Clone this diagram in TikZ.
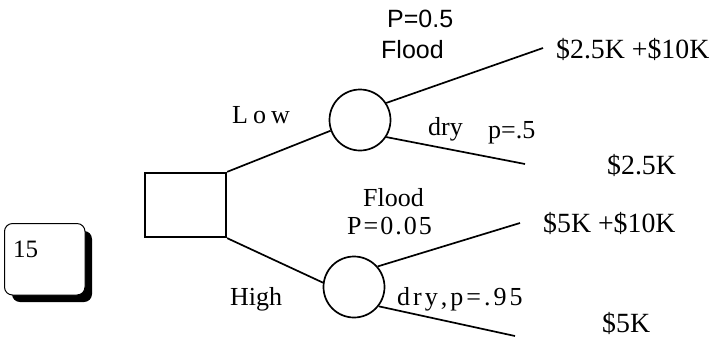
\documentclass[tikz,border=0pt]{standalone}
\usepackage{fontspec}
\setmainfont{Liberation Serif}
\newfontfamily\sansf{Liberation Sans}
\begin{document}
\begin{tikzpicture}[x=1pt,y=-1pt,
  lbl/.style={anchor=base west,inner sep=0pt,font=\fontsize{26}{28}\selectfont},
  vlbl/.style={anchor=base west,inner sep=0pt,font=\fontsize{27.8}{30}\selectfont},
  slbl/.style={anchor=base west,inner sep=0pt,font=\sansf\fontsize{25}{27}\selectfont},
  chance/.style={circle,draw,line width=1.7pt,minimum size=61pt,inner sep=0pt},
  decision/.style={draw,line width=2.3pt,minimum width=81pt,minimum height=64pt,inner sep=0pt},
  branch/.style={line width=1.7pt}]
\useasboundingbox (0,0) rectangle (711,349);
% shadowed label box
\fill[rounded corners=8pt] (12,231) rectangle (92,302);
\draw[fill=white,line width=1pt,rounded corners=8pt] (4.5,223.5) rectangle (85,295);
\node[lbl,font=\fontsize{25}{27}\selectfont] (n15) at (13,257) {15};
% decision node
\node[decision] (d) at (185.5,205) {};
% chance nodes
\node[chance] (c1) at (360,120) {};
\node[chance] (c2) at (354,287) {};
% end points
\coordinate (e1) at (543,48);
\coordinate (e2) at (525,164);
\coordinate (e3) at (520,223);
\coordinate (e4) at (515,336);
% branches
\draw[branch] (d.north east) -- (c1.200);
\draw[branch] (d.south east) -- (c2.172);
\draw[branch] (c1.33) -- (e1);
\draw[branch] (c1.-33) -- (e2);
\draw[branch] (c2.41) -- (e3);
\draw[branch] (c2.-38) -- (e4);
% labels
\node[slbl] (p05) at (387,27) {P=0.5};
\node[slbl] (fl1) at (381,58) {Flood};
\node[vlbl] (v1) at (556,58) {\$2.5K +\$10K};
\node[lbl] (low) at (232,123) {L\kern5pt o\kern5pt w};
\node[lbl] (dry1) at (428,135) {dry};
\node[lbl] (p5) at (488,138) {p=.5};
\node[vlbl] (v2) at (607,174) {\$2.5K};
\node[lbl] (fl2) at (363,206) {Flood};
\node[lbl] (p005) at (347,234) {P\kern2pt =\kern2pt 0\kern2pt .\kern2pt 0\kern2pt 5};
\node[vlbl] (v3) at (543,232) {\$5K +\$10K};
\node[lbl] (high) at (230,305) {High};
\node[lbl] (dry2) at (397,305) {d\kern3pt r\kern3pt y\kern3pt ,\kern3pt p\kern3pt =\kern3pt .\kern3pt 9\kern3pt 5};
\node[vlbl] (v4) at (602,332) {\$5K};
\end{tikzpicture}
\end{document}
